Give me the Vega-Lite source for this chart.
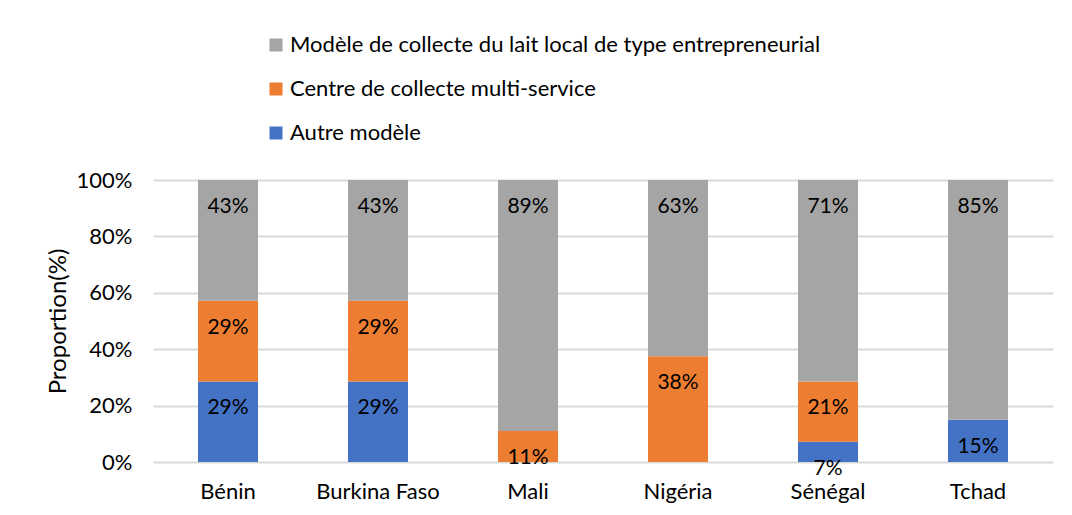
{
  "$schema": "https://vega.github.io/schema/vega-lite/v6.json",
  "width": 900,
  "height": 282,
  "autosize": {"type": "none"},
  "padding": {"left": 153, "top": 180, "right": 19, "bottom": 53},
  "background": "white",
  "config": {
    "font": "Lato",
    "view": {"stroke": null},
    "axis": {"labelFont": "Lato", "titleFont": "Lato", "labelColor": "#000000", "titleColor": "#000000"},
    "legend": {"labelFont": "Lato"}
  },
  "data": {
    "values": [
      {"pays": "Bénin", "modele": "Autre modèle", "valeur": 0.2857},
      {"pays": "Bénin", "modele": "Centre de collecte multi-service", "valeur": 0.2857},
      {"pays": "Bénin", "modele": "Modèle de collecte du lait local de type entrepreneurial", "valeur": 0.4286},
      {"pays": "Burkina Faso", "modele": "Autre modèle", "valeur": 0.2857},
      {"pays": "Burkina Faso", "modele": "Centre de collecte multi-service", "valeur": 0.2857},
      {"pays": "Burkina Faso", "modele": "Modèle de collecte du lait local de type entrepreneurial", "valeur": 0.4286},
      {"pays": "Mali", "modele": "Autre modèle", "valeur": 0},
      {"pays": "Mali", "modele": "Centre de collecte multi-service", "valeur": 0.11},
      {"pays": "Mali", "modele": "Modèle de collecte du lait local de type entrepreneurial", "valeur": 0.89},
      {"pays": "Nigéria", "modele": "Autre modèle", "valeur": 0},
      {"pays": "Nigéria", "modele": "Centre de collecte multi-service", "valeur": 0.375},
      {"pays": "Nigéria", "modele": "Modèle de collecte du lait local de type entrepreneurial", "valeur": 0.625},
      {"pays": "Sénégal", "modele": "Autre modèle", "valeur": 0.0714},
      {"pays": "Sénégal", "modele": "Centre de collecte multi-service", "valeur": 0.2143},
      {"pays": "Sénégal", "modele": "Modèle de collecte du lait local de type entrepreneurial", "valeur": 0.7143},
      {"pays": "Tchad", "modele": "Autre modèle", "valeur": 0.15},
      {"pays": "Tchad", "modele": "Centre de collecte multi-service", "valeur": 0},
      {"pays": "Tchad", "modele": "Modèle de collecte du lait local de type entrepreneurial", "valeur": 0.85}
    ]
  },
  "transform": [
    {"stack": "valeur", "groupby": ["pays"], "sort": [{"field": "modele", "order": "ascending"}], "offset": "normalize", "as": ["y0", "y1"]}
  ],
  "encoding": {
    "x": {
      "field": "pays", "type": "nominal", "sort": null,
      "scale": {"paddingInner": 0.6, "paddingOuter": 0.3},
      "axis": {"title": null, "labelAngle": 0, "labelFontSize": 22, "ticks": false, "domain": false, "labelPadding": 19}
    }
  },
  "layer": [
    {
      "mark": {"type": "bar"},
      "encoding": {
        "y": {
          "field": "y1", "type": "quantitative",
          "scale": {"domain": [0, 1]},
          "axis": {
            "title": "Proportion(%)", "titleFontSize": 24, "titleFontWeight": "normal",
            "titleX": -95, "titleY": 141, "titleAngle": -90, "titleAlign": "center", "titleBaseline": "middle",
            "format": ".0%", "values": [0, 0.2, 0.4, 0.6, 0.8, 1], "labelOverlap": false,
            "labelFontSize": 22, "ticks": false, "domain": false, "labelPadding": 21,
            "gridColor": "#d9d9d9", "gridWidth": 2
          }
        },
        "y2": {"field": "y0"},
        "color": {
          "field": "modele", "type": "nominal",
          "scale": {
            "domain": ["Modèle de collecte du lait local de type entrepreneurial", "Centre de collecte multi-service", "Autre modèle"],
            "range": ["#A5A5A5", "#ED7D31", "#4472C4"]
          },
          "legend": {
            "title": null, "orient": "none", "legendX": 112, "legendY": -146,
            "direction": "vertical", "symbolType": "square", "symbolSize": 169,
            "symbolStrokeWidth": 0, "labelFontSize": 22, "labelOffset": 3,
            "rowPadding": 22, "padding": 0, "labelLimit": 900, "labelColor": "#000000"
          }
        }
      }
    },
    {
      "transform": [{"filter": "datum.valeur > 0"}],
      "mark": {"type": "text", "fontSize": 21, "dy": 27, "color": "#000000", "baseline": "middle"},
      "encoding": {
        "y": {"field": "y1", "type": "quantitative"},
        "text": {"field": "valeur", "type": "quantitative", "format": ".0%"}
      }
    }
  ]
}
